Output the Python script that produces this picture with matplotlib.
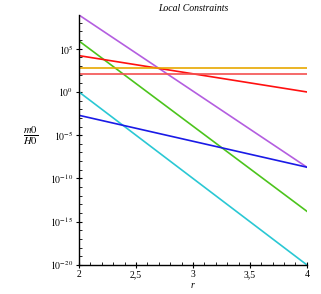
import numpy as np
import matplotlib
matplotlib.use("Agg")
import matplotlib.pyplot as plt
from matplotlib.ticker import FixedLocator, FuncFormatter

# r values at the ends of each curve, and log10 of m0/H0
r = [2, 4]
purple = [8.9, -8.7]
green = [5.9, -13.8]
red = [4.2, 0.0]
orange = [2.8, 2.8]
lightred = [2.1, 2.1]
cyan = [0.0, -20.0]
blue = [-2.7, -8.7]

xticks = [2, 2.5, 3, 3.5, 4]
xticklabels = ["2", "2,5", "3", "3,5", "4"]
yticks = [-20, -15, -10, -5, 0, 5]

plt.rcParams["font.family"] = ["Liberation Serif", "DejaVu Serif"]
plt.rcParams["mathtext.fontset"] = "stix"

fig = plt.figure(figsize=(3.21, 2.94), dpi=100)
ax = fig.add_axes([0.246, 0.099, 0.71, 0.85])

series = [
    (purple, "#b45ee0"),
    (green, "#4cc41c"),
    (red, "#ff1010"),
    (orange, "#e8a800"),
    (lightred, "#f45050"),
    (cyan, "#2ac8d4"),
    (blue, "#1a1ae6"),
]
for vals, col in series:
    ax.plot(r, [10.0 ** v for v in vals], color=col, lw=1.2)

ax.set_yscale("log")
ax.set_xlim(2, 4)
ax.set_ylim(1e-20, 10 ** 8.9)

ax.yaxis.set_major_locator(FixedLocator([10.0 ** k for k in yticks]))
ax.yaxis.set_major_formatter(FuncFormatter(lambda v, p: r"$10^{%d}$" % round(np.log10(v))))
ax.yaxis.set_minor_locator(FixedLocator([10.0 ** k for k in range(-20, 9)]))
ax.yaxis.set_minor_formatter(FuncFormatter(lambda v, p: ""))

ax.set_xticks(xticks)
ax.set_xticklabels(xticklabels)
ax.set_xticks(np.arange(2, 4.001, 0.1), minor=True)

for s in ["top", "right"]:
    ax.spines[s].set_visible(False)
ax.spines["left"].set_linewidth(1.0)
ax.spines["bottom"].set_linewidth(1.0)
ax.tick_params(which="major", direction="inout", length=4, width=0.8, labelsize=7, pad=2)
ax.tick_params(which="minor", direction="in", length=2.5, width=0.6)

ax.set_title("Local Constraints", fontsize=7, style="italic", pad=3)
ax.set_xlabel("r", fontsize=7, style="italic", labelpad=1)
fig.text(0.095, 0.54, r"$\frac{\mathit{m0}}{\mathit{H0}}$", fontsize=11, ha="center", va="center")

fig.savefig("out.png", dpi=100)
